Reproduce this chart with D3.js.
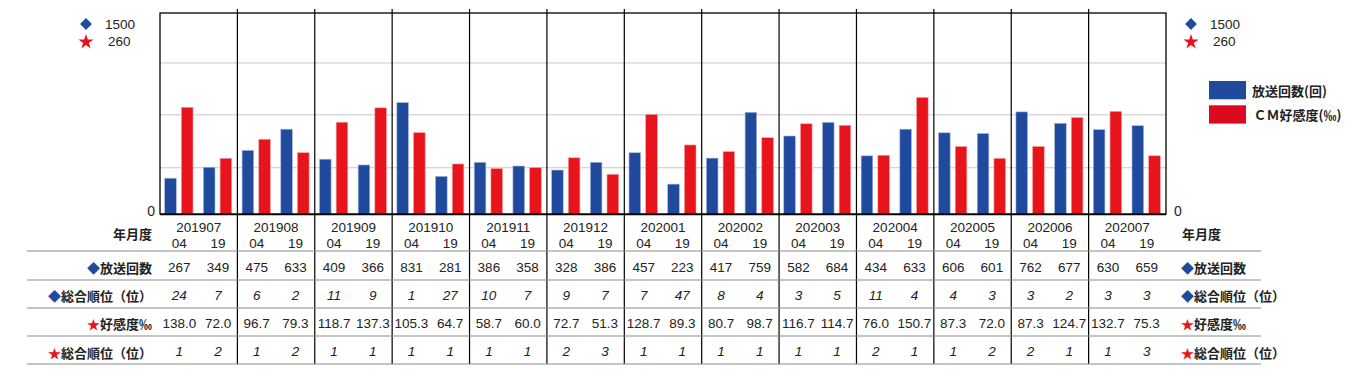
<!DOCTYPE html>
<html>
<head>
<meta charset="utf-8">
<script src="https://cdn.jsdelivr.net/npm/d3@7"></script>
<style>
  body { margin: 0; background: #fff; }
  svg { display: block; }
  .num { font-family: "Liberation Sans", Arial, sans-serif; font-size: 13.5px; fill: #222; }
  .lbl { font-family: "Noto Sans CJK JP", sans-serif; font-size: 13px; font-weight: bold; fill: #222; }
</style>
</head>
<body>
<div id="chart"></div>
<script>
// data
const months = ['201907','201908','201909','201910','201911','201912','202001','202002','202003','202004','202005','202006','202007'];
const periods = ['04','19'];
const broadcast = [267,349,475,633,409,366,831,281,386,358,328,386,457,223,417,759,582,684,434,633,606,601,762,677,630,659];
const broadcastRank = [24,7,6,2,11,9,1,27,10,7,9,7,7,47,8,4,3,5,11,4,4,3,3,2,3,3];
const favor = [138.0,72.0,96.7,79.3,118.7,137.3,105.3,64.7,58.7,60.0,72.7,51.3,128.7,89.3,80.7,98.7,116.7,114.7,76.0,150.7,87.3,72.0,87.3,124.7,132.7,75.3];
const favorRank = [1,2,1,2,1,1,1,1,1,1,2,3,1,1,1,1,1,1,2,1,1,2,2,1,1,3];
const blueMax = 1500, redMax = 260;
const gridValues = [345, 740, 1127]; // on the blue scale
const rowLabels = [
  {sym: '◆', color: '#1f4a9e', text: '放送回数'},
  {sym: '◆', color: '#1f4a9e', text: '総合順位（位）'},
  {sym: '★', color: '#e8141c', text: '好感度‰'},
  {sym: '★', color: '#e8141c', text: '総合順位（位）'}
];
const legendItems = [
  {color: '#1f4a9e', text: '放送回数(回)'},
  {color: '#dc0a1e', text: 'ＣＭ好感度(‰)'}
];

const W = 1364, H = 375;
const margin = {left: 160, right: 198, top: 13, plotBottom: 214};
const BLUE = '#1f4a9e', RED = '#e8141c';

const svg = d3.select('#chart').append('svg').attr('width', W).attr('height', H);

const x0 = d3.scaleBand().domain(months).range([margin.left, W - margin.right]);
const x1 = d3.scaleBand().domain(periods).range([0, x0.bandwidth()]);
const x2 = d3.scaleBand().domain(['blue','red']).range([4.7, 33]).paddingInner(0.305);
const yBlue = d3.scaleLinear().domain([0, blueMax]).range([margin.plotBottom, margin.top]);
const yRed = d3.scaleLinear().domain([0, redMax]).range([margin.plotBottom, margin.top]);

// flat records
const recs = [];
months.forEach((m, i) => periods.forEach((p, j) => {
  const k = i * 2 + j;
  recs.push({m, p, b: broadcast[k], br: broadcastRank[k], f: favor[k], fr: favorRank[k]});
}));
const slotX = d => x0(d.m) + x1(d.p);
const slotC = d => slotX(d) + x1.bandwidth() / 2;

// gridlines
svg.append('g').selectAll('line').data(gridValues).enter().append('line')
  .attr('x1', margin.left).attr('x2', W - margin.right)
  .attr('y1', d => yBlue(d)).attr('y2', d => yBlue(d))
  .attr('stroke', '#c8c8c8').attr('stroke-width', 1);

// bars
const bars = svg.append('g');
bars.selectAll('.blue').data(recs).enter().append('rect')
  .attr('class', 'blue')
  .attr('x', d => slotX(d) + x2('blue'))
  .attr('width', x2.bandwidth())
  .attr('y', d => yBlue(d.b))
  .attr('height', d => margin.plotBottom - yBlue(d.b))
  .attr('fill', BLUE).attr('stroke', '#a9b8dc').attr('stroke-width', 0.6);
bars.selectAll('.red').data(recs).enter().append('rect')
  .attr('class', 'red')
  .attr('x', d => slotX(d) + x2('red'))
  .attr('width', x2.bandwidth())
  .attr('y', d => yRed(d.f))
  .attr('height', d => margin.plotBottom - yRed(d.f))
  .attr('fill', RED).attr('stroke', '#f2a0a4').attr('stroke-width', 0.6);

// plot frame
svg.append('rect')
  .attr('x', margin.left).attr('y', margin.top)
  .attr('width', x0.range()[1] - margin.left).attr('height', margin.plotBottom - margin.top)
  .attr('fill', 'none').attr('stroke', '#000').attr('stroke-width', 1.3);
svg.append('line')
  .attr('x1', margin.left).attr('x2', x0.range()[1])
  .attr('y1', margin.plotBottom + 0.5).attr('y2', margin.plotBottom + 0.5)
  .attr('stroke', '#000').attr('stroke-width', 1.5);

// month separators
const tableBottom = 364;
svg.append('g').selectAll('line').data(months.slice(1)).enter().append('line')
  .attr('x1', d => x0(d)).attr('x2', d => x0(d))
  .attr('y1', 9).attr('y2', tableBottom)
  .attr('stroke', '#000').attr('stroke-width', 1.2);

// zero labels
svg.append('text').attr('class', 'num').attr('x', 155).attr('y', 216)
  .attr('text-anchor', 'end').style('font-size', '14px').text('0');
svg.append('text').attr('class', 'num').attr('x', 1174).attr('y', 216)
  .style('font-size', '14px').text('0');

// top-left / top-right scale notes
[{sx: 86, tx: 105}, {sx: 1191, tx: 1210}].forEach(o => {
  svg.append('path').attr('d', d3.symbol(d3.symbolSquare, 70)())
    .attr('transform', `translate(${o.sx},24) rotate(45)`).attr('fill', BLUE);
  svg.append('text').attr('class', 'num').attr('x', o.tx).attr('y', 28.5).text(blueMax);
  svg.append('path').attr('d', d3.symbol(d3.symbolStar, 70)())
    .attr('transform', `translate(${o.sx},42)`).attr('fill', RED);
  svg.append('text').attr('class', 'num').attr('x', o.tx + 3).attr('y', 46).text(redMax);
});

// legend
const leg = svg.append('g');
legendItems.forEach((it, i) => {
  leg.append('rect').attr('x', 1209).attr('y', 81 + i * 24.3).attr('width', 37).attr('height', 18.3).attr('fill', it.color);
  leg.append('text').attr('class', 'lbl').attr('x', 1252 + i * 1.5).attr('y', 90 + i * 24.5)
    .attr('dominant-baseline', 'central').text(it.text);
});

// table
const rowLines = [251, 280, 308, 336, 364];
svg.append('g').selectAll('line').data(rowLines).enter().append('line')
  .attr('x1', 27).attr('x2', 1261).attr('y1', d => d).attr('y2', d => d)
  .attr('stroke', '#8a8a8a').attr('stroke-width', 1);

// header
[{x: 152, a: 'end'}, {x: 1182, a: 'start'}].forEach(o => {
  svg.append('text').attr('class', 'lbl').attr('x', o.x).attr('y', 233)
    .attr('text-anchor', o.a).attr('dominant-baseline', 'central').text('年月度');
});
svg.append('g').selectAll('text').data(months).enter().append('text')
  .attr('class', 'num').attr('text-anchor', 'middle').attr('dominant-baseline', 'central')
  .attr('x', d => x0(d) + x0.bandwidth() / 2).attr('y', 227.5).text(d => d);
svg.append('g').selectAll('text').data(recs).enter().append('text')
  .attr('class', 'num').attr('text-anchor', 'middle').attr('dominant-baseline', 'central')
  .attr('x', slotC).attr('y', 243.5).text(d => d.p);

// rows
const rowY = [267, 295, 323, 351.5];
const rowVals = [d => d.b, d => d.br, d => d.f.toFixed(1), d => d.fr];
rowVals.forEach((fn, r) => {
  svg.append('g').selectAll('text').data(recs).enter().append('text')
    .attr('class', 'num').attr('text-anchor', 'middle').attr('dominant-baseline', 'central')
    .attr('x', slotC).attr('y', rowY[r])
    .style('font-style', (r === 1 || r === 3) ? 'italic' : 'normal')
    .text(fn);
});

rowLabels.forEach((lb, r) => {
  [{x: 152, a: 'end'}, {x: 1181, a: 'start'}].forEach(o => {
    const t = svg.append('text').attr('class', 'lbl').attr('x', o.x).attr('y', rowY[r])
      .attr('text-anchor', o.a).attr('dominant-baseline', 'central');
    t.append('tspan').attr('fill', lb.color).text(lb.sym);
    t.append('tspan').text(lb.text);
  });
});
</script>
</body>
</html>
